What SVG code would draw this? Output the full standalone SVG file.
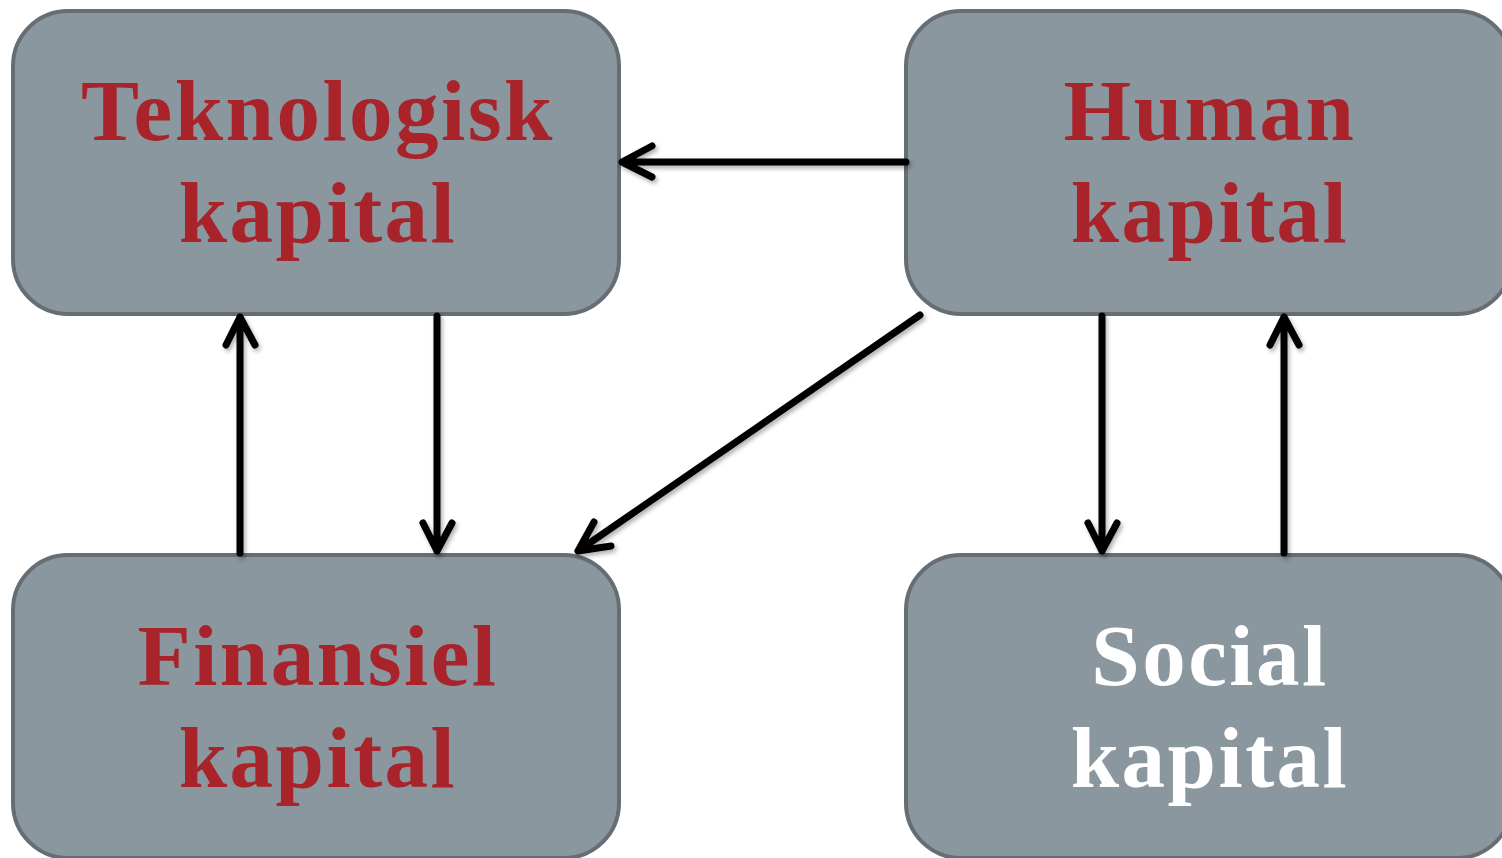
<svg xmlns="http://www.w3.org/2000/svg" width="1502" height="858" viewBox="0 0 1502 858">
<style>
.box{fill:#8a979f;stroke:#656d75;stroke-width:4}
.t{font-family:"Liberation Serif","Times New Roman",serif;font-weight:bold;font-size:87px;text-anchor:middle;letter-spacing:2.5px}
.red{fill:#a8232a}
.white{fill:#ffffff}
.c{fill:none;stroke:#000;stroke-width:7;stroke-linecap:round;stroke-linejoin:round}
</style>
<defs>
<filter id="sh" x="-10%" y="-10%" width="120%" height="120%">
<feDropShadow dx="2" dy="3" stdDeviation="2" flood-color="#000" flood-opacity="0.3"/>
</filter>
</defs>
<rect width="1502" height="858" fill="#ffffff"/>
<g id="tekno">
<rect class="box" x="13" y="11" width="606" height="303" rx="55"/>
<text class="t red" x="318" y="140">Teknologisk</text>
<text class="t red" x="318" y="242">kapital</text>
</g>
<g id="human">
<rect class="box" x="906" y="11" width="606" height="303" rx="55"/>
<text class="t red" x="1210" y="140">Human</text>
<text class="t red" x="1210" y="242">kapital</text>
</g>
<g id="finansiel">
<rect class="box" x="13" y="555" width="606" height="303" rx="55"/>
<text class="t red" x="318" y="685">Finansiel</text>
<text class="t red" x="318" y="787">kapital</text>
</g>
<g id="social">
<rect class="box" x="906" y="555" width="606" height="303" rx="55"/>
<text class="t white" x="1210" y="685">Social</text>
<text class="t white" x="1210" y="787">kapital</text>
</g>
<g id="connectors" filter="url(#sh)">
<path class="c" d="M906 162 H622 M652 146 L622 162 L652 177"/>
<path class="c" d="M240 553 V317 M226 345 L240 317 L255 345"/>
<path class="c" d="M437 316 V551 M423 523 L437 551 L452 523"/>
<path class="c" d="M920 315 L578 551 M594 522 L578 551 L611 546"/>
<path class="c" d="M1102 316 V551 M1088 523 L1102 551 L1117 523"/>
<path class="c" d="M1284 553 V317 M1270 345 L1284 317 L1299 345"/>
</g>
</svg>
